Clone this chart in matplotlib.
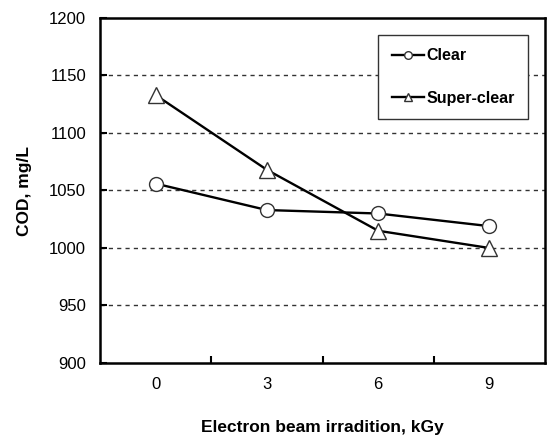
import numpy as np
import matplotlib.pyplot as plt

# data
doses = ['0', '3', '6', '9']
clear = [1056, 1033, 1030, 1019]
super_clear = [1133, 1068, 1015, 1000]
y_ticks = [900, 950, 1000, 1050, 1100, 1150, 1200]

plt.rcParams['font.family'] = ['Liberation Sans', 'DejaVu Sans']

fig = plt.figure(figsize=(5.5, 4.38), dpi=100)
ax = fig.add_axes([100 / 550, 1 - 363 / 438, 445 / 550, 345 / 438])

x = np.arange(len(doses))
ax.plot(x, clear, color='black', lw=1.7, marker='o', ms=10,
        mfc='white', mec='#333333', mew=1.0, label='Clear', zorder=3)
ax.plot(x, super_clear, color='black', lw=1.7, marker='^', ms=11,
        mfc='white', mec='#333333', mew=1.0, label='Super-clear', zorder=3)

ax.set_xlim(-0.5, len(doses) - 0.5)
ax.set_ylim(900, 1200)
ax.set_yticks(y_ticks)
ax.set_yticklabels([str(v) for v in y_ticks], fontsize=12)
ax.set_xticks(x)
ax.set_xticklabels(doses, fontsize=12)
ax.tick_params(axis='x', length=0, pad=10)
ax.set_xticks(x[:-1] + 0.5, minor=True)
ax.tick_params(axis='x', which='minor', direction='in', length=5, width=1.5)
ax.tick_params(axis='y', direction='in', length=5, width=1.5, pad=10)

for v in y_ticks[1:-1]:
    ax.axhline(v, color='#333333', lw=1.0, ls=(0, (3, 3)), zorder=1)

for s in ax.spines.values():
    s.set_linewidth(1.8)

ax.set_xlabel('Electron beam irradition, kGy', fontsize=12.5,
              fontweight='bold', labelpad=20)
ax.set_ylabel('COD, mg/L', fontsize=12.5, fontweight='bold', labelpad=12)

leg = ax.legend(loc='upper right', bbox_to_anchor=(0.962, 0.951),
                fancybox=False, edgecolor='#333333', framealpha=1,
                markerscale=0.55, handlelength=2.0, handletextpad=0.15,
                labelspacing=1.7, borderpad=0.85, borderaxespad=0,
                prop={'weight': 'bold', 'size': 11.5})
leg.get_frame().set_linewidth(1.0)

fig.savefig('out.png', dpi=100)
